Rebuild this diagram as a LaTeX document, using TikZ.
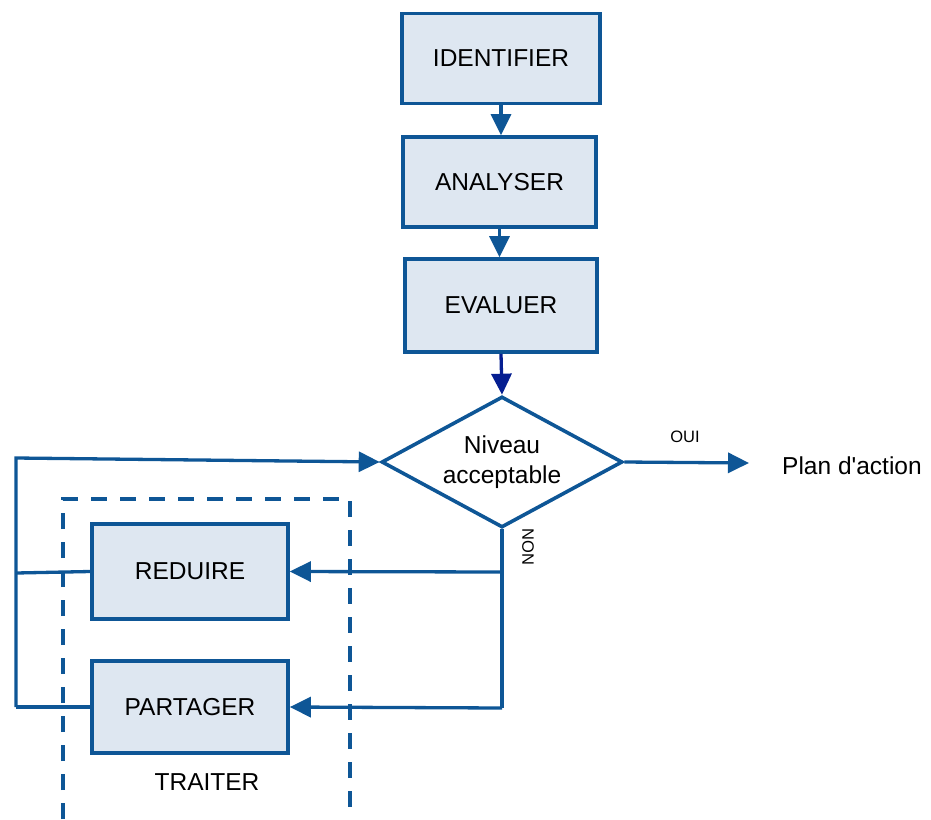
\documentclass[tikz,border=0pt]{standalone}
\usepackage{fontspec}
\setmainfont{Liberation Sans}
\usetikzlibrary{shapes.geometric,arrows.meta}
\definecolor{lineblue}{RGB}{14,86,150}
\definecolor{boxfill}{RGB}{222,231,241}
\definecolor{navyarrow}{RGB}{5,30,145}
\tikzset{
 stepbox/.style={draw=lineblue, line width=3.6pt, fill=boxfill, inner sep=0pt, font=\fontsize{24.5}{28}\selectfont, text=black},
 decision/.style={diamond, shape aspect=1.84, draw=lineblue, line width=3.6pt, fill=white, inner sep=0pt, align=center, font=\fontsize{24.5}{30}\selectfont},
 conn/.style={draw=lineblue, line width=3.3pt},
 arr/.style={conn, -{Triangle[length=21pt,width=20pt]}},
 lbl/.style={font=\fontsize{24.5}{28}\selectfont, inner sep=0pt},
 small/.style={font=\fontsize{16.5}{18}\selectfont, inner sep=0pt},
}
\begin{document}
\begin{tikzpicture}[x=1pt,y=-1pt]
\useasboundingbox (0,0) rectangle (931,819);
% dashed group
\draw[lineblue, line width=3.3pt, dash pattern=on 16pt off 13pt] (63,819) -- (63,499) -- (350,499) -- (350,807);
% boxes
\node[stepbox, minimum width=198pt, minimum height=90pt] (ident) at (501,58.5) {IDENTIFIER};
\node[stepbox, minimum width=193pt, minimum height=90pt] (anal) at (499.5,182) {ANALYSER};
\node[stepbox, minimum width=192pt, minimum height=93pt] (eval) at (501,305.5) {EVALUER};
\node[decision, minimum width=241pt, minimum height=131pt] (dec) at (502,462) {Niveau\\acceptable};
\node[stepbox, minimum width=196pt, minimum height=95pt] (red) at (190,571.5) {REDUIRE};
\node[stepbox, minimum width=196pt, minimum height=92pt] (par) at (190,707) {PARTAGER};
% labels
\node[small] (oui) at (685,437) {OUI};
\node[small, rotate=-90] (non) at (528,547) {NON};
\node[lbl, anchor=west] (plan) at (782,466) {Plan d\textquotesingle action};
\node[lbl] (traiter) at (207,782) {TRAITER};
% coordinates
\coordinate (tl) at (16,458);
\coordinate (ml) at (16,573);
\coordinate (bl) at (16,707);
\coordinate (nm) at (502,572);
\coordinate (nb) at (502,708);
\coordinate (oe) at (749,463);
% connectors
\draw[arr] (ident.south) -- (ident.south |- anal.north);
\draw[arr] (anal.south) -- (anal.south |- eval.north);
\draw[arr, draw=navyarrow] (eval.south) -- (dec.north);
\draw[arr] (dec.east) -- (oe);
\draw[conn] (dec.south) -- (nb);
\draw[arr] (nb) -- (par.east);
\draw[arr] (nm) -- (red.east);
\draw[conn] (red.west) -- (ml);
\draw[conn] (par.west) -- (bl);
\draw[arr] (bl) -- (tl) -- (dec.west);
\end{tikzpicture}
\end{document}
